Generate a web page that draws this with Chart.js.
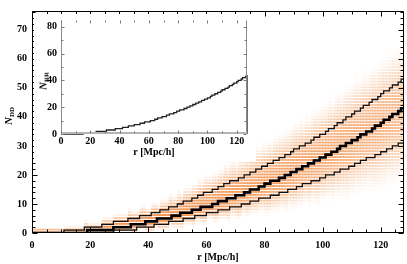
<!DOCTYPE html>
<html><head><meta charset="utf-8">
<script src="https://cdn.jsdelivr.net/npm/chart.js@4/dist/chart.umd.min.js"></script>
<style>
html,body{margin:0;padding:0;background:#fff;}
#wrap{position:relative;width:407px;height:264px;overflow:hidden;}
#main{position:absolute;left:0;top:0;}
#inset{position:absolute;left:30px;top:10px;}
.ylab{position:absolute;transform:translate(-50%,-50%) rotate(-90deg);white-space:nowrap;
 font-family:"Liberation Serif","DejaVu Serif",serif;font-weight:bold;color:#000;line-height:1;}
.ylab i{font-size:11px;}
.ylab sub{font-size:7px;vertical-align:-2px;}
</style></head><body>
<div id="wrap">
<canvas id="main" width="407" height="264"></canvas>
<canvas id="inset" width="230" height="152"></canvas>
<div class="ylab" style="left:7px;top:116px;"><i>N</i><sub>DD</sub></div>
<div class="ylab" style="left:42px;top:81px;"><i>N</i><sub>RR</sub></div>
</div>
<script>
// ---------------- data ----------------
const R_MAX = 128;
const NDD_MAX = 76.5;
const INSET_R_MAX = 127;
const NRR_MAX = 85;
const xTickValues = [0,20,40,60,80,100,120];
const yTickValues = [0,10,20,30,40,50,60,70];
const insetYTickValues = [0,20,40,60,80];
// r [Mpc/h] at which each staircase reaches N = 1, 2, 3, ...
const medianStepR = [19,28,34,39,43,48,51,55,58,62,64,67,70,73,75,78,80,82,85,87,89,91,93,95,97,99,101,103,105,106,108,110,112,113,115,117,118,120,121,123,124,126,127];
const upperStepR  = [11,18,24,28,33,37,41,44,47,50,52,55,57,59,62,64,66,68,71,73,75,77,79,81,83,85,87,89,90,92,94,96,97,99,101,102,104,105,107,108,110,111,113,114,116,117,119,120,121,123,124,126,127,128];
const lowerStepR  = [28,36,42,47,52,56,60,64,68,72,75,78,82,85,88,91,93,96,99,101,104,106,109,111,113,115,118,120,122,124,126,128];
const nrrStepR    = [15,24,31,37,42,46,50,54,57,61,64,66,69,72,74,77,79,81,84,86,88,90,92,94,96,98,100,102,103,105,107,109,110,112,114,115,117,118,120,121,123,124,126,127];

// ---------------- helpers ----------------
function stepPoints(steps, endX, dropToZero){
  const pts=[{x:0,y:0}];
  steps.forEach((r,i)=>pts.push({x:r,y:i+1}));
  pts.push({x:endX,y:steps.length});
  if(dropToZero) pts.push({x:endX,y:0});
  return pts;
}
function countAt(steps, r){ let n=0; for(const s of steps){ if(s<=r) n++; } return n; }
function fixedTicks(values){ return function(s){ s.ticks = values.map(v=>({value:v})); }; }

const FONT = {family:'"Liberation Serif","DejaVu Serif",serif', weight:'bold', size:10};

const heatPlugin = {
  id:'heat',
  beforeDatasetsDraw(chart, args, opts){
    if(!opts || !opts.on) return;
    const xs=chart.scales.x, ys=chart.scales.y, ctx=chart.ctx, a=chart.chartArea;
    ctx.save();
    ctx.beginPath(); ctx.rect(a.left,a.top,a.right-a.left,a.bottom-a.top); ctx.clip();
    for(let i=0;i<R_MAX;i++){
      const rc=i+0.5;
      const M=countAt(medianStepR,rc), U=countAt(upperStepR,rc), L=countAt(lowerStepR,rc);
      const su=Math.max((U-M)/1.645,0.45), sd=Math.max((M-L)/1.645,0.45);
      const sAvg=(su+sd)/2;
      const amp=Math.min(0.9,Math.max(0.5,0.9-0.065*(sAvg-0.8)));
      const x0=xs.getPixelForValue(i), x1=xs.getPixelForValue(i+1);
      for(let n=0;n<=Math.ceil(NDD_MAX);n++){
        const z=(n-M)/(n>=M?su:sd);
        const t=1-z*z/15;
        if(t<=0) continue;
        const al=amp*Math.pow(t,1.8);
        const y0=ys.getPixelForValue(n+0.5), y1=ys.getPixelForValue(n-0.5);
        ctx.fillStyle='rgba(240,130,50,'+al.toFixed(3)+')';
        ctx.fillRect(x0,y0,x1-x0+0.4,Math.max(1,(y1-y0)-1));
      }
    }
    ctx.restore();
  }
};

const tickPlugin = {
  id:'ticksIn',
  afterDraw(chart, args, o){
    if(!o || !o.on) return;
    const xs=chart.scales.x, ys=chart.scales.y, ctx=chart.ctx, a=chart.chartArea;
    ctx.save();
    ctx.lineWidth=1;
    ctx.strokeStyle=o.frameColor;
    const L=Math.round(a.left)+0.5, R=Math.round(a.right)-0.5, T=Math.round(a.top)+0.5, B=Math.round(a.bottom)-0.5;
    ctx.beginPath();
    if(o.sides.includes('l')){ctx.moveTo(L,T);ctx.lineTo(L,B);}
    if(o.sides.includes('r')){ctx.moveTo(R,T);ctx.lineTo(R,B);}
    if(o.sides.includes('t')){ctx.moveTo(L,T);ctx.lineTo(R,T);}
    ctx.stroke();
    if(o.sides.includes('b')){
      const bw=o.bottomWidth||1;
      ctx.lineWidth=bw; ctx.strokeStyle=o.bottomColor||o.frameColor;
      ctx.beginPath(); ctx.moveTo(L-0.5,B+0.5-bw/2); ctx.lineTo(R+0.5,B+0.5-bw/2); ctx.stroke();
    }
    ctx.lineWidth=1; ctx.strokeStyle=o.tickColor;
    ctx.beginPath();
    for(let v=xs.min; v<=xs.max+1e-6; v+=o.xMinor){
      const major=Math.abs(v/o.xMajor-Math.round(v/o.xMajor))<1e-6;
      const len=major?o.major:o.minor;
      const px=Math.round(xs.getPixelForValue(v))+0.5;
      ctx.moveTo(px,B); ctx.lineTo(px,B-len);
      ctx.moveTo(px,T); ctx.lineTo(px,T+len);
    }
    for(let v=ys.min; v<=ys.max+1e-6; v+=o.yMinor){
      const major=Math.abs(v/o.yMajor-Math.round(v/o.yMajor))<1e-6;
      const len=major?o.major:o.minor;
      const py=Math.round(ys.getPixelForValue(v))+0.5;
      ctx.moveTo(L,py); ctx.lineTo(L+len,py);
      ctx.moveTo(R,py); ctx.lineTo(R-len,py);
    }
    ctx.stroke();
    ctx.restore();
  }
};

const whiteBg = {
  id:'whiteBg',
  beforeDraw(chart, args, o){
    if(!o || !o.on) return;
    const ctx=chart.ctx; ctx.save(); ctx.fillStyle='#fff';
    ctx.fillRect(o.x,o.y,o.w,o.h); ctx.restore();
  }
};

Chart.register(heatPlugin, tickPlugin, whiteBg);

// ---------------- main chart ----------------
new Chart(document.getElementById('main'), {
  type:'line',
  data:{datasets:[
    {label:'upper', data:stepPoints(upperStepR,R_MAX,false), stepped:'before', borderColor:'#111', borderWidth:1.3, pointRadius:0, fill:false},
    {label:'lower', data:stepPoints(lowerStepR,R_MAX,false), stepped:'before', borderColor:'#111', borderWidth:1.3, pointRadius:0, fill:false},
    {label:'median', data:stepPoints(medianStepR,R_MAX,false), stepped:'before', borderColor:'#000', borderWidth:2.6, pointRadius:0, fill:false}
  ]},
  options:{
    responsive:false, animation:false, devicePixelRatio:1,
    layout:{padding:{left:0,top:1,right:3,bottom:0}},
    plugins:{legend:{display:false}, tooltip:{enabled:false},
      heat:{on:true},
      ticksIn:{on:true, sides:'lrtb', frameColor:'#000', tickColor:'#000', xMajor:20, xMinor:5, yMajor:10, yMinor:2, major:5, minor:3}
    },
    scales:{
      x:{type:'linear', min:0, max:R_MAX,
        grid:{display:false, drawTicks:false}, border:{display:false},
        ticks:{padding:6, color:'#000', font:FONT, maxRotation:0, autoSkip:false},
        afterBuildTicks:fixedTicks(xTickValues),
        title:{display:true, text:'r [Mpc/h]', color:'#000', font:FONT, padding:{top:0,bottom:1}},
        afterFit(s){ s.height=31; }
      },
      y:{type:'linear', min:0, max:NDD_MAX,
        grid:{display:false, drawTicks:false}, border:{display:false},
        ticks:{padding:5, color:'#000', font:FONT, autoSkip:false},
        afterBuildTicks:fixedTicks(yTickValues),
        afterFit(s){ s.width=32; }
      }
    }
  }
});

// ---------------- inset chart ----------------
new Chart(document.getElementById('inset'), {
  type:'line',
  data:{datasets:[
    {label:'N_RR', data:stepPoints(nrrStepR,INSET_R_MAX,true), stepped:'before', borderColor:'#222', borderWidth:1.3, pointRadius:0, fill:false, clip:4}
  ]},
  options:{
    responsive:false, animation:false, devicePixelRatio:1,
    layout:{padding:{left:0,top:8,right:13,bottom:0}},
    plugins:{legend:{display:false}, tooltip:{enabled:false},
      whiteBg:{on:true, x:4, y:4, w:222, h:148},
      ticksIn:{on:true, sides:'lrb', frameColor:'#8a8a8a', bottomColor:'#b5b5b5', bottomWidth:2, tickColor:'#777', xMajor:20, xMinor:10, yMajor:20, yMinor:10, major:3, minor:2}
    },
    scales:{
      x:{type:'linear', min:0, max:INSET_R_MAX,
        grid:{display:false, drawTicks:false}, border:{display:false},
        ticks:{padding:1, color:'#000', font:FONT, maxRotation:0, autoSkip:false},
        afterBuildTicks:fixedTicks(xTickValues),
        title:{display:true, text:'r [Mpc/h]', color:'#000', font:FONT, padding:{top:0,bottom:4}},
        afterFit(s){ s.height=28; }
      },
      y:{type:'linear', min:0, max:NRR_MAX,
        grid:{display:false, drawTicks:false}, border:{display:false},
        ticks:{padding:4, color:'#000', font:FONT, autoSkip:false},
        afterBuildTicks:fixedTicks(insetYTickValues),
        afterFit(s){ s.width=31; }
      }
    }
  }
});
</script>
</body></html>
